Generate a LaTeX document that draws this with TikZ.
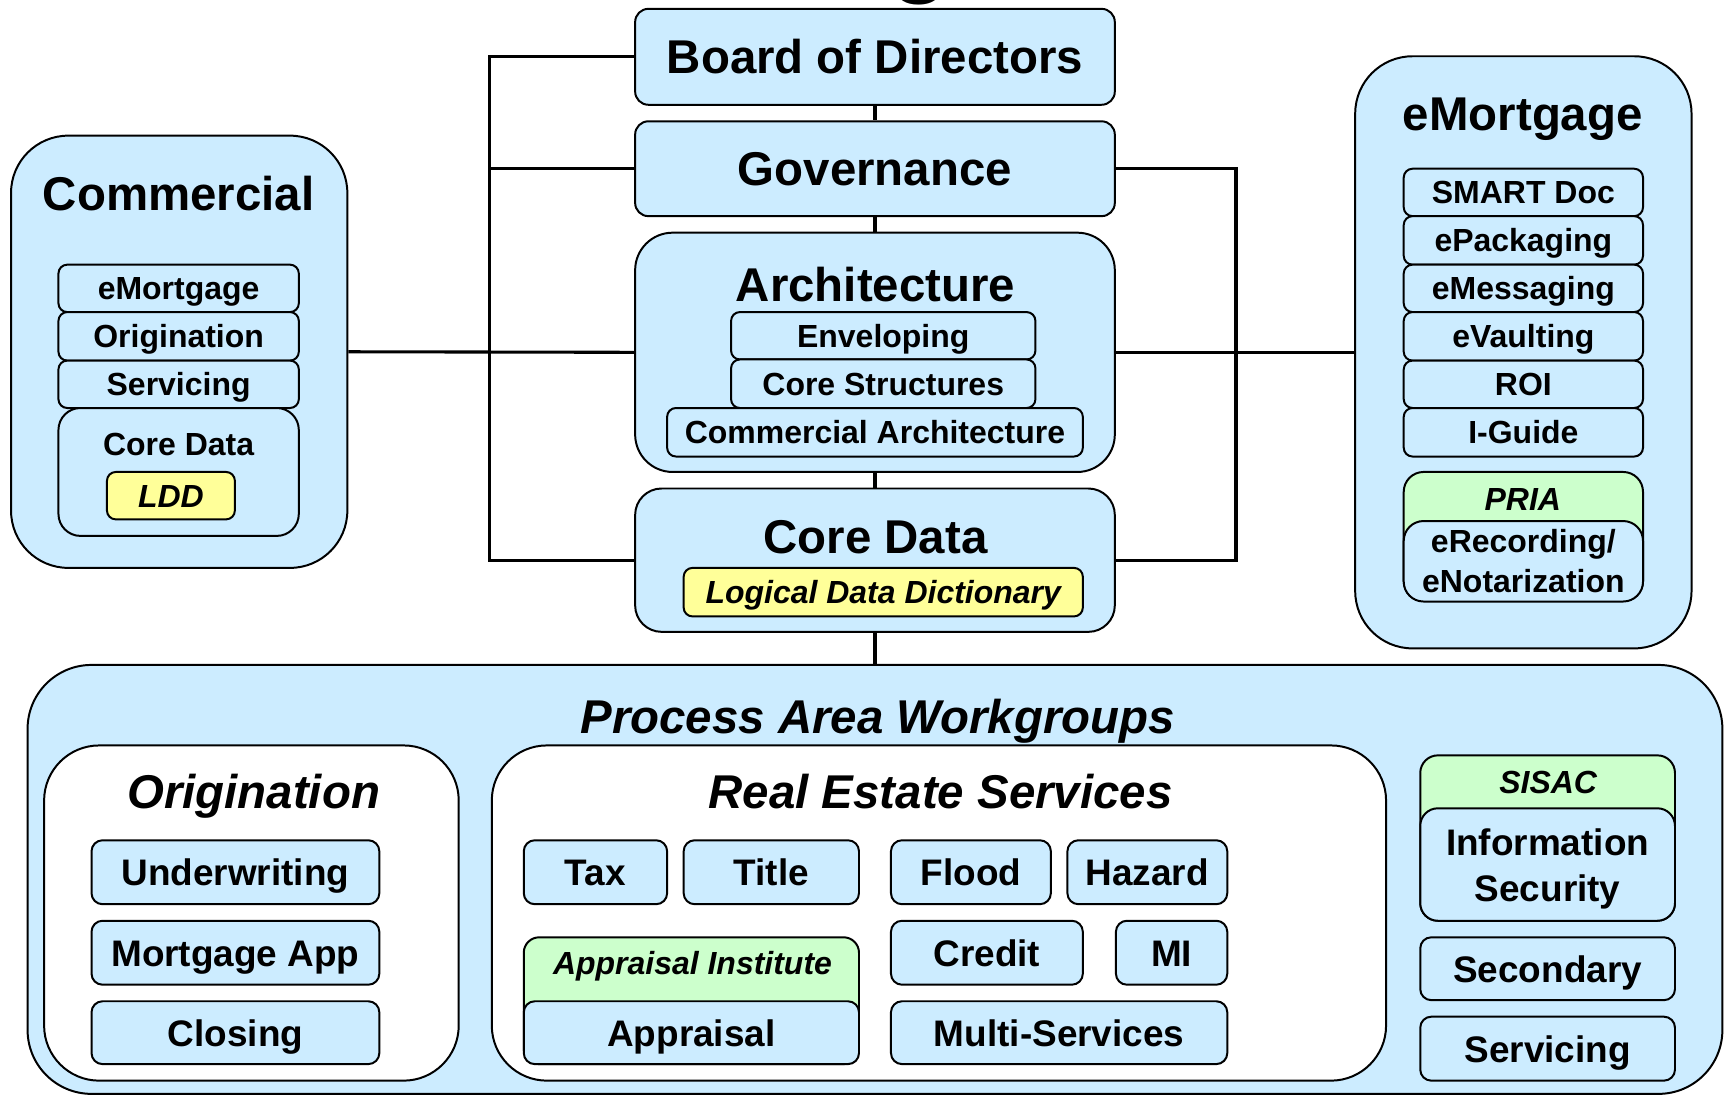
\documentclass[tikz,border=0pt]{standalone}
\usepackage{fontspec}
\setmainfont{Liberation Sans}
\definecolor{lblue}{RGB}{204,236,255}
\definecolor{lyel}{RGB}{255,255,153}
\definecolor{lgreen}{RGB}{204,255,204}
\begin{document}
\begin{tikzpicture}[x=0.5pt,y=-0.5pt,
  box/.style={draw=black, line width=0.9pt, fill=lblue, inner sep=0pt, align=center},
  wbox/.style={box, fill=white},
  ybox/.style={box, fill=lyel},
  gbox/.style={box, fill=lgreen},
  ttl/.style={inner sep=0pt, font=\fontsize{21.5}{25}\selectfont\bfseries, text height=15.5pt, text depth=0pt},
  ttli/.style={ttl, font=\fontsize{21.5}{25}\selectfont\bfseries\itshape},
  sm/.style={font=\fontsize{14.5}{18}\selectfont\bfseries},
  smi/.style={font=\fontsize{14.5}{18}\selectfont\bfseries\itshape},
  md/.style={font=\fontsize{16.75}{20.5}\selectfont\bfseries},
  oneS/.style={text height=10.4pt, text depth=0pt},
  oneM/.style={text height=12.1pt, text depth=0pt},
  conn/.style={line width=1.4pt}]
\useasboundingbox (0,0) rectangle (1568,993);
% fragment of a heading cut off at the top
\node[anchor=base, inner sep=0pt, font=\fontsize{44}{44}\selectfont\bfseries] (gfrag) at (834,-14) {g};

% ---- central column ----
\node[box, rounded corners=6pt, minimum width=217.5pt, minimum height=43.5pt, ttl] (board) at (793.5,51.5) {Board of Directors};
\node[box, rounded corners=6pt, minimum width=217.5pt, minimum height=43pt, ttl] (gov) at (793.5,153) {Governance};
\node[box, rounded corners=17pt, minimum width=217.5pt, minimum height=108.5pt] (arch) at (793.5,319.5) {};
\node[ttl] (archT) at (794,258) {Architecture};
\node[box, rounded corners=4pt, minimum width=138pt, minimum height=21.5pt, sm, oneS] (env) at (801,304.5) {Enveloping};
\node[box, rounded corners=4pt, minimum width=138pt, minimum height=22pt, sm, oneS] (cstr) at (801,348) {Core Structures};
\node[box, rounded corners=4pt, minimum width=188.5pt, minimum height=22pt, sm, oneS] (carch) at (793.5,392) {Commercial Architecture};
\node[box, rounded corners=12pt, minimum width=217.5pt, minimum height=65pt] (cd) at (793.5,508) {};
\node[ttl] (cdT) at (794,486) {Core Data};
\node[ybox, rounded corners=4pt, minimum width=181pt, minimum height=22pt, smi, oneS] (ldd) at (801,537) {Logical Data Dictionary};

% ---- Commercial ----
\node[box, rounded corners=26pt, minimum width=152.5pt, minimum height=196pt] (com) at (162.5,319) {};
\node[ttl] (comT) at (162,175) {Commercial};
\node[box, rounded corners=4pt, minimum width=109pt, minimum height=21.5pt, sm, oneS] (cem) at (162,261.5) {eMortgage};
\node[box, rounded corners=4pt, minimum width=109pt, minimum height=22pt, sm, oneS] (corig) at (162,305) {Origination};
\node[box, rounded corners=4pt, minimum width=109pt, minimum height=21.5pt, sm, oneS] (cserv) at (162,348.5) {Servicing};
\node[box, rounded corners=10pt, minimum width=109pt, minimum height=58pt] (ccd) at (162,428) {};
\node[inner sep=0pt, sm, oneS] (ccdT) at (162,403) {Core Data};
\node[ybox, rounded corners=4pt, minimum width=58pt, minimum height=21.5pt, smi, oneS] (cldd) at (155,449.5) {LDD};

% ---- eMortgage ----
\node[box, rounded corners=26pt, minimum width=152.5pt, minimum height=268.5pt] (em) at (1381.5,319.5) {};
\node[ttl] (emT) at (1381,103) {eMortgage};
\node[box, rounded corners=4pt, minimum width=108.5pt, minimum height=21.5pt, sm, oneS] (smart) at (1381.5,174.5) {SMART Doc};
\node[box, rounded corners=4pt, minimum width=108.5pt, minimum height=22pt, sm, oneS] (epack) at (1381.5,218) {ePackaging};
\node[box, rounded corners=4pt, minimum width=108.5pt, minimum height=21.5pt, sm, oneS] (emsg) at (1381.5,261.5) {eMessaging};
\node[box, rounded corners=4pt, minimum width=108.5pt, minimum height=22pt, sm, oneS] (evault) at (1381.5,305) {eVaulting};
\node[box, rounded corners=4pt, minimum width=108.5pt, minimum height=21.5pt, sm, oneS] (roi) at (1381.5,348.5) {ROI};
\node[box, rounded corners=4pt, minimum width=108.5pt, minimum height=22pt, sm, oneS] (iguide) at (1381.5,392) {I-Guide};
\node[gbox, rounded corners=9pt, minimum width=108.5pt, minimum height=58.5pt] (pria) at (1381.5,486.5) {};
\node[inner sep=0pt, smi, oneS] (priaT) at (1381,453) {PRIA};
\node[box, rounded corners=9pt, minimum width=108.5pt, minimum height=36.5pt, sm] (erec) at (1381.5,509) {eRecording/\\eNotarization};

% ---- Process Area Workgroups ----
\node[box, rounded corners=29pt, minimum width=768.5pt, minimum height=194.5pt] (paw) at (793.5,797.5) {};
\node[ttli] (pawT) at (796,650) {Process Area Workgroups};

\node[wbox, rounded corners=25pt, minimum width=188pt, minimum height=152pt] (orig) at (228,828) {};
\node[ttli] (origT) at (230,718) {Origination};
\node[box, rounded corners=5pt, minimum width=130.5pt, minimum height=29pt, md, oneM] (uw) at (213.5,791) {Underwriting};
\node[box, rounded corners=5pt, minimum width=130.5pt, minimum height=29pt, md, oneM] (mapp) at (213.5,864) {Mortgage App};
\node[box, rounded corners=5pt, minimum width=130.5pt, minimum height=28.5pt, md, oneM] (clos) at (213.5,936.5) {Closing};

\node[wbox, rounded corners=25pt, minimum width=405.5pt, minimum height=152pt] (res) at (851.5,828) {};
\node[ttli] (resT) at (853,718) {Real Estate Services};
\node[box, rounded corners=5pt, minimum width=65pt, minimum height=29pt, md, oneM] (tax) at (540,791) {Tax};
\node[box, rounded corners=5pt, minimum width=79.5pt, minimum height=29pt, md, oneM] (title) at (699.5,791) {Title};
\node[box, rounded corners=5pt, minimum width=72.5pt, minimum height=29pt, md, oneM] (flood) at (880.5,791) {Flood};
\node[box, rounded corners=5pt, minimum width=72.5pt, minimum height=29pt, md, oneM] (haz) at (1040.5,791) {Hazard};
\node[box, rounded corners=5pt, minimum width=87pt, minimum height=29pt, md, oneM] (credit) at (895,864) {Credit};
\node[box, rounded corners=5pt, minimum width=50.5pt, minimum height=29pt, md, oneM] (mi) at (1062.5,864) {MI};
\node[gbox, rounded corners=7pt, minimum width=152pt, minimum height=57.5pt] (ai) at (627,907.5) {};
\node[inner sep=0pt, smi, oneS] (aiT) at (628,873) {Appraisal Institute};
\node[box, rounded corners=5pt, minimum width=152pt, minimum height=28.5pt, md, oneM] (appr) at (627,936.5) {Appraisal};
\node[box, rounded corners=5pt, minimum width=152.5pt, minimum height=28.5pt, md, oneM] (multi) at (960.5,936.5) {Multi-Services};

\node[gbox, rounded corners=8pt, minimum width=115.5pt, minimum height=75pt] (sisac) at (1403.5,760) {};
\node[inner sep=0pt, smi, oneS] (sisacT) at (1404,709) {SISAC};
\node[box, rounded corners=8pt, minimum width=115.5pt, minimum height=51pt, md] (infosec) at (1403.5,784) {};
\node[inner sep=0pt, md, align=center] (infosecT) at (1403.5,788) {Information\\Security};
\node[box, rounded corners=5pt, minimum width=115.5pt, minimum height=28.5pt, md, oneM] (second) at (1403.5,878.5) {Secondary};
\node[box, rounded corners=5pt, minimum width=115.5pt, minimum height=29pt, md, oneM] (pserv) at (1403.5,951) {Servicing};

% ---- connectors ----
\draw[conn] (board.south) -- (gov.north);
\draw[conn] (gov.south) -- (arch.north);
\draw[conn] (arch.south) -- (cd.north);
\draw[conn] (cd.south) -- (paw.north);
\draw[conn] (board.west) -- ++(-131,0) |- (cd.west);
\draw[conn] (gov.west) -- ++(-131,0);
\draw[conn] (com.east) -- (arch.west);
\draw[conn] (gov.east) -- ++(109,0) |- (cd.east);
\draw[conn] (arch.east) -- (em.west);
\end{tikzpicture}
\end{document}
